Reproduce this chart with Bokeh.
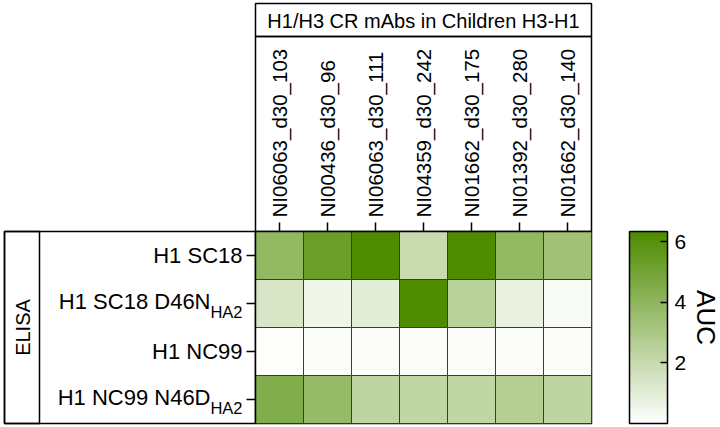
import math

from bokeh.core.properties import value
from bokeh.embed import file_html
from bokeh.models import (ColorBar, ColumnDataSource, FactorRange, FixedTicker,
                          LinearColorMapper)
from bokeh.plotting import figure
from bokeh.resources import INLINE
from bokeh.transform import transform

# ---- data -------------------------------------------------------------------
antibodies = ["NI06063_d30_103", "NI00436_d30_96", "NI06063_d30_111",
              "NI04359_d30_242", "NI01662_d30_175", "NI01392_d30_280",
              "NI01662_d30_140"]
antigens = ["H1 SC18", "H1 SC18 D46N", "H1 NC99", "H1 NC99 N46D"]
antigen_subscripts = ["", "HA2", "", "HA2"]

auc_sc18 = [3.9, 5.3, 6.3, 2.0, 6.3, 3.9, 3.4]
auc_sc18_d46n = [1.4, 0.5, 1.0, 6.3, 2.5, 0.75, 0.2]
auc_nc99 = [0.07, 0.1, 0.14, 0.15, 0.12, 0.15, 0.12]
auc_nc99_n46d = [4.5, 3.75, 2.3, 2.25, 2.25, 2.65, 2.3]
auc_rows = [auc_sc18, auc_sc18_d46n, auc_nc99, auc_nc99_n46d]

auc_low, auc_high = 0.0, 6.33
colorbar_ticks = [2, 4, 6]
title_text = "H1/H3 CR mAbs in Children H3-H1"
assay_text = "ELISA"
colorbar_title = "AUC"

FONT = "Liberation Sans"

# ---- layout (pixels) ----------------------------------------------------------
W, H = 720, 427
FRAME_L, FRAME_T, CELL = 255, 231, 48
FRAME_R = FRAME_L + CELL * len(antibodies)
FRAME_B = FRAME_T + CELL * len(antigens)


def sx(px):
    """Canvas x pixel -> synthetic x coordinate of the heatmap."""
    return (px - FRAME_L) / CELL


def sy(py):
    """Canvas y pixel -> synthetic y coordinate of the heatmap."""
    return (FRAME_B - py) / CELL


# ---- colour map: white to green -----------------------------------------------
def ramp(c0, c1, n=256):
    out = []
    for i in range(n):
        t = i / (n - 1)
        r, g, b = (round(a + (b_ - a) * t) for a, b_ in zip(c0, c1))
        out.append(f"#{r:02x}{g:02x}{b:02x}")
    return out


palette = ramp((255, 255, 255), (78, 139, 0))
mapper = LinearColorMapper(palette=palette, low=auc_low, high=auc_high)

xs, ys, vs = [], [], []
for antigen, row in zip(antigens, auc_rows):
    for ab, v in zip(antibodies, row):
        xs.append(ab)
        ys.append(antigen)
        vs.append(v)
source = ColumnDataSource(dict(antibody=xs, antigen=ys, auc=vs))

p = figure(width=W, height=H,
           x_range=FactorRange(factors=antibodies),
           y_range=FactorRange(factors=antigens[::-1]),
           x_axis_location="above",
           output_backend="svg", toolbar_location=None,
           min_border_left=FRAME_L, min_border_right=W - FRAME_R,
           min_border_top=FRAME_T, min_border_bottom=H - FRAME_B)
p.background_fill_color = "white"
p.border_fill_color = "white"
p.grid.visible = False
p.outline_line_color = "black"
p.outline_line_width = 1.5

p.rect(x="antibody", y="antigen", width=1, height=1, source=source,
       fill_color=transform("auc", mapper), line_color="#3a3a3a", line_width=1)

# column labels on the top axis
xa = p.xaxis[0]
xa.major_label_orientation = "vertical"
xa.axis_line_color = None
xa.major_tick_in = 0
xa.major_tick_out = 9
xa.major_tick_line_color = "black"
xa.major_tick_line_width = 1.5
xa.major_label_standoff = 5
xa.major_label_text_font = FONT
xa.major_label_text_font_size = "20.5px"
xa.major_label_text_color = "black"

# the row names carry subscripts, so they and their ticks are drawn directly
p.yaxis.visible = False
n_rows = len(antigens)
n_cols = len(antibodies)
p.segment(x0=[sx(246)] * n_rows, y0=antigens, x1=[0] * n_rows, y1=antigens,
          line_color="black", line_width=1.5, level="overlay")


def text(x, y, s, size, align="center", angle=0.0):
    p.text(x=[x], y=[y], text=[s], angle=angle, level="overlay",
           text_font=value(FONT), text_font_size=size, text_color="black",
           text_align=align, text_baseline="middle")


for i, (name, sub) in enumerate(zip(antigens, antigen_subscripts)):
    yc = n_rows - 1 - i + 0.5
    if sub:
        text(sx(242), yc - 8 / CELL, sub, "16.5px", align="right")
        text(sx(210), yc + 2.5 / CELL, name, "22px", align="right")
    else:
        text(sx(242), yc, name, "22px", align="right")

# boxes around the header and the row-label block
box_left = [0, 0, sx(4), sx(4)]
box_right = [n_cols, n_cols, 0, sx(39)]
box_top = [sy(3), sy(36), n_rows, n_rows]
box_bottom = [sy(36), n_rows, 0, 0]
p.quad(left=box_left, right=box_right, top=box_top, bottom=box_bottom,
       fill_color=None, line_color="black", line_width=1.5, level="overlay")

text(n_cols / 2, sy(20), title_text, "20px")
text(sx(22), n_rows / 2, assay_text, "20px", angle=math.pi / 2)
text(sx(705), sy(317), colorbar_title, "26px", angle=-math.pi / 2)

color_bar = ColorBar(color_mapper=mapper, ticker=FixedTicker(ticks=colorbar_ticks),
                     orientation="vertical", width=38, height=FRAME_B - FRAME_T,
                     padding=0, margin=0, location=(629 - FRAME_L, 0),
                     bar_line_color="black", bar_line_width=1.5,
                     major_tick_in=7, major_tick_out=0,
                     major_tick_line_color="black", major_tick_line_width=1.5,
                     minor_tick_line_color=None,
                     label_standoff=7,
                     major_label_text_font=FONT, major_label_text_font_size="21px",
                     major_label_text_color="black",
                     background_fill_color=None, border_line_color=None)
p.add_layout(color_bar)

open("out.html", "w").write(file_html(p, INLINE))
